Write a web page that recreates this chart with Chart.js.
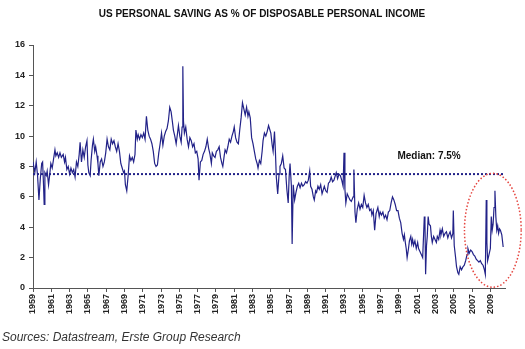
<!DOCTYPE html>
<html>
<head>
<meta charset="utf-8">
<script src="https://cdn.jsdelivr.net/npm/chart.js@4/dist/chart.umd.min.js"></script>
<style>
  body { margin: 0; background: #fff; }
  canvas { display: block; }
</style>
</head>
<body>
<canvas id="savingChart" width="525" height="349"></canvas>
<script>
// personal saving rate (% of disposable income)
const years1959 = [1959.0, 1959.2, 1959.35, 1959.5, 1959.65, 1959.8, 1959.95, 1960.05, 1960.15, 1960.22, 1960.3, 1960.45, 1960.55, 1960.7, 1960.85, 1960.95,
  1961.1, 1961.25, 1961.4, 1961.5, 1961.65, 1961.8, 1961.95, 1962.1, 1962.3, 1962.45, 1962.55, 1962.7, 1962.85, 1963.0, 1963.15, 1963.3, 1963.45, 1963.6, 1963.75, 1963.9,
  1964.05, 1964.15, 1964.3, 1964.45, 1964.6, 1964.75, 1964.9, 1965.0, 1965.1, 1965.25, 1965.35, 1965.5, 1965.6, 1965.75, 1965.85, 1966.0, 1966.1, 1966.2, 1966.35, 1966.5,
  1966.65, 1966.8, 1966.95, 1967.1, 1967.25, 1967.4, 1967.55, 1967.7, 1967.85, 1968.0, 1968.15, 1968.3, 1968.45, 1968.6, 1968.75, 1968.9, 1969.0, 1969.1, 1969.25, 1969.4,
  1969.55, 1969.7, 1969.85];
const rates1959 = [8.3, 7.6, 8.3, 7.4, 5.8, 7.2, 8.2, 8.3, 6.8, 5.5, 7.6, 7.4, 7.7, 6.8, 7.6, 8.2,
  7.9, 8.5, 9.1, 8.7, 8.9, 8.6, 8.9, 8.6, 8.8, 8.3, 8.6, 7.8, 8.0, 7.5, 7.9, 7.6, 7.8, 7.3, 8.3, 8.0,
  8.8, 9.6, 8.3, 9.1, 8.6, 9.3, 9.7, 8.1, 7.6, 7.4, 8.4, 9.4, 9.8, 9.0, 9.3, 8.7, 8.2, 7.4, 8.3, 8.5,
  8.0, 8.3, 8.9, 9.8, 9.3, 9.1, 9.8, 9.5, 9.7, 9.3, 9.0, 9.5, 9.0, 8.2, 7.9, 7.6, 7.7, 6.8, 6.4, 7.4,
  8.7, 8.4, 8.6];

const years1970 = [1970.0, 1970.15, 1970.25, 1970.4, 1970.5, 1970.65, 1970.8, 1970.95, 1971.1, 1971.25, 1971.4, 1971.55, 1971.7, 1971.85, 1972.0, 1972.15,
  1972.3, 1972.45, 1972.6, 1972.75, 1972.9, 1973.05, 1973.2, 1973.35, 1973.5, 1973.65, 1973.8, 1973.95, 1974.1, 1974.25, 1974.35, 1974.5,
  1974.65, 1974.8, 1974.9, 1975.05, 1975.2, 1975.3, 1975.38, 1975.45, 1975.55, 1975.7, 1975.85, 1976.0, 1976.15, 1976.3, 1976.45, 1976.6,
  1976.75, 1976.9, 1977.05, 1977.15, 1977.3, 1977.45, 1977.6, 1977.75, 1977.9, 1978.05, 1978.2, 1978.35, 1978.5, 1978.6, 1978.75, 1978.9,
  1979.05, 1979.2, 1979.35, 1979.5, 1979.65, 1979.75, 1979.9];
const rates1970 = [8.3, 8.8, 10.4, 9.8, 10.1, 9.8, 10.1, 9.9, 10.2, 9.8, 11.3, 10.4, 10.0, 9.8, 9.5, 9.0,
  8.2, 8.0, 8.1, 8.9, 9.5, 10.2, 9.4, 10.0, 10.3, 10.5, 11.0, 11.9, 11.6, 10.9, 10.4, 10.0,
  9.5, 10.2, 10.7, 10.0, 9.6, 10.6, 14.6, 11.0, 10.2, 10.6, 9.8, 9.3, 9.9, 9.7, 9.3, 9.5,
  8.9, 9.0, 8.5, 7.1, 8.3, 8.4, 8.8, 9.0, 9.3, 9.8, 9.2, 8.8, 8.2, 8.9, 8.7, 8.6,
  9.0, 9.1, 9.3, 8.6, 8.2, 8.0, 8.7];

const years1980 = [1980.0, 1980.15, 1980.3, 1980.45, 1980.6, 1980.75, 1980.9, 1981.0, 1981.15, 1981.3, 1981.45, 1981.6, 1981.75, 1981.9, 1982.05, 1982.2,
  1982.35, 1982.5, 1982.6, 1982.75, 1982.9, 1983.05, 1983.2, 1983.35, 1983.5, 1983.6, 1983.75, 1983.9, 1984.05, 1984.15, 1984.3, 1984.45,
  1984.6, 1984.75, 1984.85, 1985.0, 1985.15, 1985.25, 1985.4, 1985.5, 1985.6, 1985.75, 1985.9, 1986.0, 1986.15, 1986.3, 1986.45, 1986.6,
  1986.75, 1986.9, 1987.0, 1987.1, 1987.25, 1987.33, 1987.45, 1987.6, 1987.75, 1987.9, 1988.05, 1988.2, 1988.35, 1988.5, 1988.65, 1988.8,
  1988.95, 1989.1, 1989.25, 1989.35, 1989.5, 1989.65, 1989.75, 1989.9];
const rates1980 = [9.1, 8.9, 9.3, 9.8, 9.6, 10.0, 10.3, 10.6, 9.9, 9.6, 9.5, 10.4, 11.2, 12.2, 11.8, 11.4,
  11.9, 11.3, 11.6, 11.2, 9.9, 9.5, 9.0, 8.5, 8.2, 7.9, 8.4, 8.2, 9.0, 9.7, 10.2, 10.0,
  10.3, 10.7, 10.5, 10.2, 9.4, 9.0, 10.3, 9.0, 7.3, 6.2, 7.5, 8.0, 8.2, 8.7, 7.9, 7.8,
  6.5, 5.6, 7.3, 8.2, 6.7, 2.9, 6.8, 5.8, 6.3, 6.7, 6.9, 6.6, 6.9, 6.7, 6.8, 7.0,
  6.9, 7.1, 7.7, 6.7, 6.5, 6.0, 5.8, 6.4];

const years1990 = [1990.0, 1990.15, 1990.3, 1990.45, 1990.6, 1990.75, 1990.85, 1991.0, 1991.15, 1991.3, 1991.45, 1991.6, 1991.75, 1991.9, 1992.05, 1992.15,
  1992.3, 1992.45, 1992.6, 1992.75, 1992.9, 1993.0, 1993.1, 1993.2, 1993.35, 1993.5, 1993.65, 1993.8, 1994.0, 1994.08, 1994.2, 1994.3,
  1994.45, 1994.6, 1994.75, 1994.9, 1995.05, 1995.2, 1995.35, 1995.5, 1995.65, 1995.8, 1995.95, 1996.05, 1996.2, 1996.35, 1996.5, 1996.7,
  1996.85, 1996.95, 1997.1, 1997.25, 1997.4, 1997.55, 1997.7, 1997.85, 1998.0, 1998.15, 1998.3, 1998.45, 1998.6, 1998.75, 1998.9, 1999.05,
  1999.2, 1999.35, 1999.5, 1999.6, 1999.7, 1999.8, 1999.9];
const rates1990 = [6.3, 6.7, 6.5, 6.8, 6.2, 6.5, 6.7, 6.4, 6.3, 6.9, 7.0, 7.3, 7.0, 7.1, 7.4, 7.6,
  7.2, 7.5, 7.4, 7.1, 6.7, 8.9, 6.5, 5.6, 6.2, 6.0, 5.8, 5.7, 6.0, 7.8, 5.0, 4.3,
  5.2, 5.6, 5.2, 5.5, 5.3, 6.1, 5.6, 5.3, 5.5, 5.1, 5.2, 4.8, 5.1, 3.8, 4.9, 5.3,
  4.7, 5.0, 4.8, 5.0, 4.6, 4.8, 4.5, 5.0, 5.1, 5.6, 6.0, 5.8, 5.5, 5.1, 5.1, 4.6,
  4.3, 3.6, 3.2, 3.5, 3.0, 2.6, 2.0];

const years2000 = [2000.05, 2000.15, 2000.3, 2000.4, 2000.5, 2000.6, 2000.75, 2000.9, 2001.05, 2001.15, 2001.3, 2001.45, 2001.6, 2001.7, 2001.78, 2001.85,
  2001.92, 2002.02, 2002.1, 2002.2, 2002.3, 2002.45, 2002.55, 2002.65, 2002.8, 2002.95, 2003.1, 2003.2, 2003.35, 2003.5, 2003.6, 2003.75,
  2003.9, 2004.05, 2004.2, 2004.35, 2004.45, 2004.6, 2004.75, 2004.9, 2004.95, 2005.05, 2005.2, 2005.3, 2005.45, 2005.55, 2005.7, 2005.85,
  2006.0, 2006.15, 2006.3, 2006.45, 2006.55, 2006.7, 2006.85, 2007.0, 2007.15, 2007.3, 2007.45, 2007.6, 2007.75, 2007.9, 2008.05, 2008.2,
  2008.35, 2008.45, 2008.55, 2008.62, 2008.7, 2008.85, 2009.0, 2009.1, 2009.2, 2009.3, 2009.4, 2009.5, 2009.6, 2009.7, 2009.8, 2009.9,
  2010.0, 2010.1, 2010.25, 2010.4];
const rates2000 = [2.6, 3.1, 3.4, 2.9, 3.2, 2.8, 3.1, 2.6, 3.0, 2.6, 2.4, 2.2, 2.0, 3.5, 4.7, 4.3,
  0.9, 2.8, 3.4, 4.7, 4.2, 4.1, 3.4, 3.0, 3.4, 3.2, 3.0, 3.4, 3.2, 3.8, 3.5, 3.9,
  3.4, 3.6, 3.7, 3.3, 3.5, 3.7, 3.3, 3.6, 5.1, 2.8, 2.0, 1.4, 1.0, 0.9, 1.4, 1.2,
  1.4, 1.5, 1.8, 2.2, 2.6, 2.3, 2.5, 2.4, 2.2, 2.1, 1.9, 1.8, 1.7, 1.8, 1.6, 1.5,
  1.2, 0.9, 5.8, 3.0, 1.8, 2.2, 2.6, 4.7, 3.8, 4.2, 5.3, 6.4, 4.7, 3.8, 4.1, 3.6,
  3.9, 3.8, 3.5, 2.7];

const medianRate = 7.5;
const tickYears = [1959, 1961, 1963, 1965, 1967, 1969, 1971, 1973, 1975, 1977, 1979, 1981, 1983, 1985,
  1987, 1989, 1991, 1993, 1995, 1997, 1999, 2001, 2003, 2005, 2007, 2009];

const allYears = years1959.concat(years1970, years1980, years1990, years2000);
const allRates = rates1959.concat(rates1970, rates1980, rates1990, rates2000);
const savingPoints = allYears.map((y, i) => ({ x: y, y: allRates[i] }));

const xMin = 1959, xMax = 2010.6;
const navy = '#222288';
const axisFont = { family: 'Arial, "Liberation Sans", sans-serif', size: 9, weight: 'bold' };

const extras = {
  id: 'extras',
  afterDraw(chart) {
    const c = chart.ctx;
    const xs = chart.scales.x, ys = chart.scales.y;
    c.save();
    c.fillStyle = '#111';
    c.font = 'bold 10px Arial, "Liberation Sans", sans-serif';
    c.textAlign = 'center';
    c.textBaseline = 'middle';
    c.fillText('US PERSONAL SAVING AS % OF DISPOSABLE PERSONAL INCOME', 262, 14);
    c.fillText('Median: 7.5%', xs.getPixelForValue(2002.3), ys.getPixelForValue(8.7));

    c.fillStyle = '#333';
    c.font = 'italic 12px Arial, "Liberation Sans", sans-serif';
    c.textAlign = 'left';
    c.fillText('Sources: Datastream, Erste Group Research', 2, 338);

    // red dotted ring round the latest years
    const cx = xs.getPixelForValue(2009.27), cy = ys.getPixelForValue(3.8);
    const rx = xs.getPixelForValue(2009.27 + 3.1) - cx;
    const ry = cy - ys.getPixelForValue(3.8 + 3.75);
    c.strokeStyle = '#e5453f';
    c.lineWidth = 1.5;
    c.setLineDash([1.5, 2]);
    c.beginPath();
    c.ellipse(cx, cy, rx, ry, 0, 0, Math.PI * 2);
    c.stroke();
    c.restore();
  }
};

new Chart(document.getElementById('savingChart'), {
  type: 'line',
  data: {
    datasets: [{
      label: 'Saving rate',
      data: savingPoints,
      borderColor: navy,
      borderWidth: 1.2,
      pointRadius: 0,
      tension: 0
    }, {
      label: 'Median',
      data: [{ x: xMin, y: medianRate }, { x: xMax, y: medianRate }],
      borderColor: navy,
      borderWidth: 2,
      borderDash: [2, 2],
      pointRadius: 0
    }]
  },
  options: {
    responsive: false,
    animation: false,
    devicePixelRatio: 1,
    layout: { padding: { top: 45, right: 20, bottom: 26, left: 0 } },
    plugins: {
      legend: { display: false },
      tooltip: { enabled: false }
    },
    scales: {
      x: {
        type: 'linear',
        min: xMin,
        max: xMax,
        afterBuildTicks: (scale) => { scale.ticks = tickYears.map(v => ({ value: v })); },
        afterFit: (scale) => { scale.height = 35; },
        ticks: {
          autoSkip: false,
          minRotation: 90,
          maxRotation: 90,
          padding: 2,
          color: '#222',
          font: axisFont,
          callback: (v) => String(v)
        },
        grid: { drawOnChartArea: false, drawTicks: true, tickLength: 4, color: '#555' },
        border: { display: true, color: '#555', width: 1 }
      },
      y: {
        min: 0,
        max: 16,
        afterFit: (scale) => { scale.width = 33; },
        ticks: { stepSize: 2, padding: 4, color: '#222', font: axisFont },
        grid: { drawOnChartArea: false, drawTicks: true, tickLength: 4, color: '#555' },
        border: { display: true, color: '#555', width: 1 }
      }
    }
  },
  plugins: [extras]
});
</script>
</body>
</html>
